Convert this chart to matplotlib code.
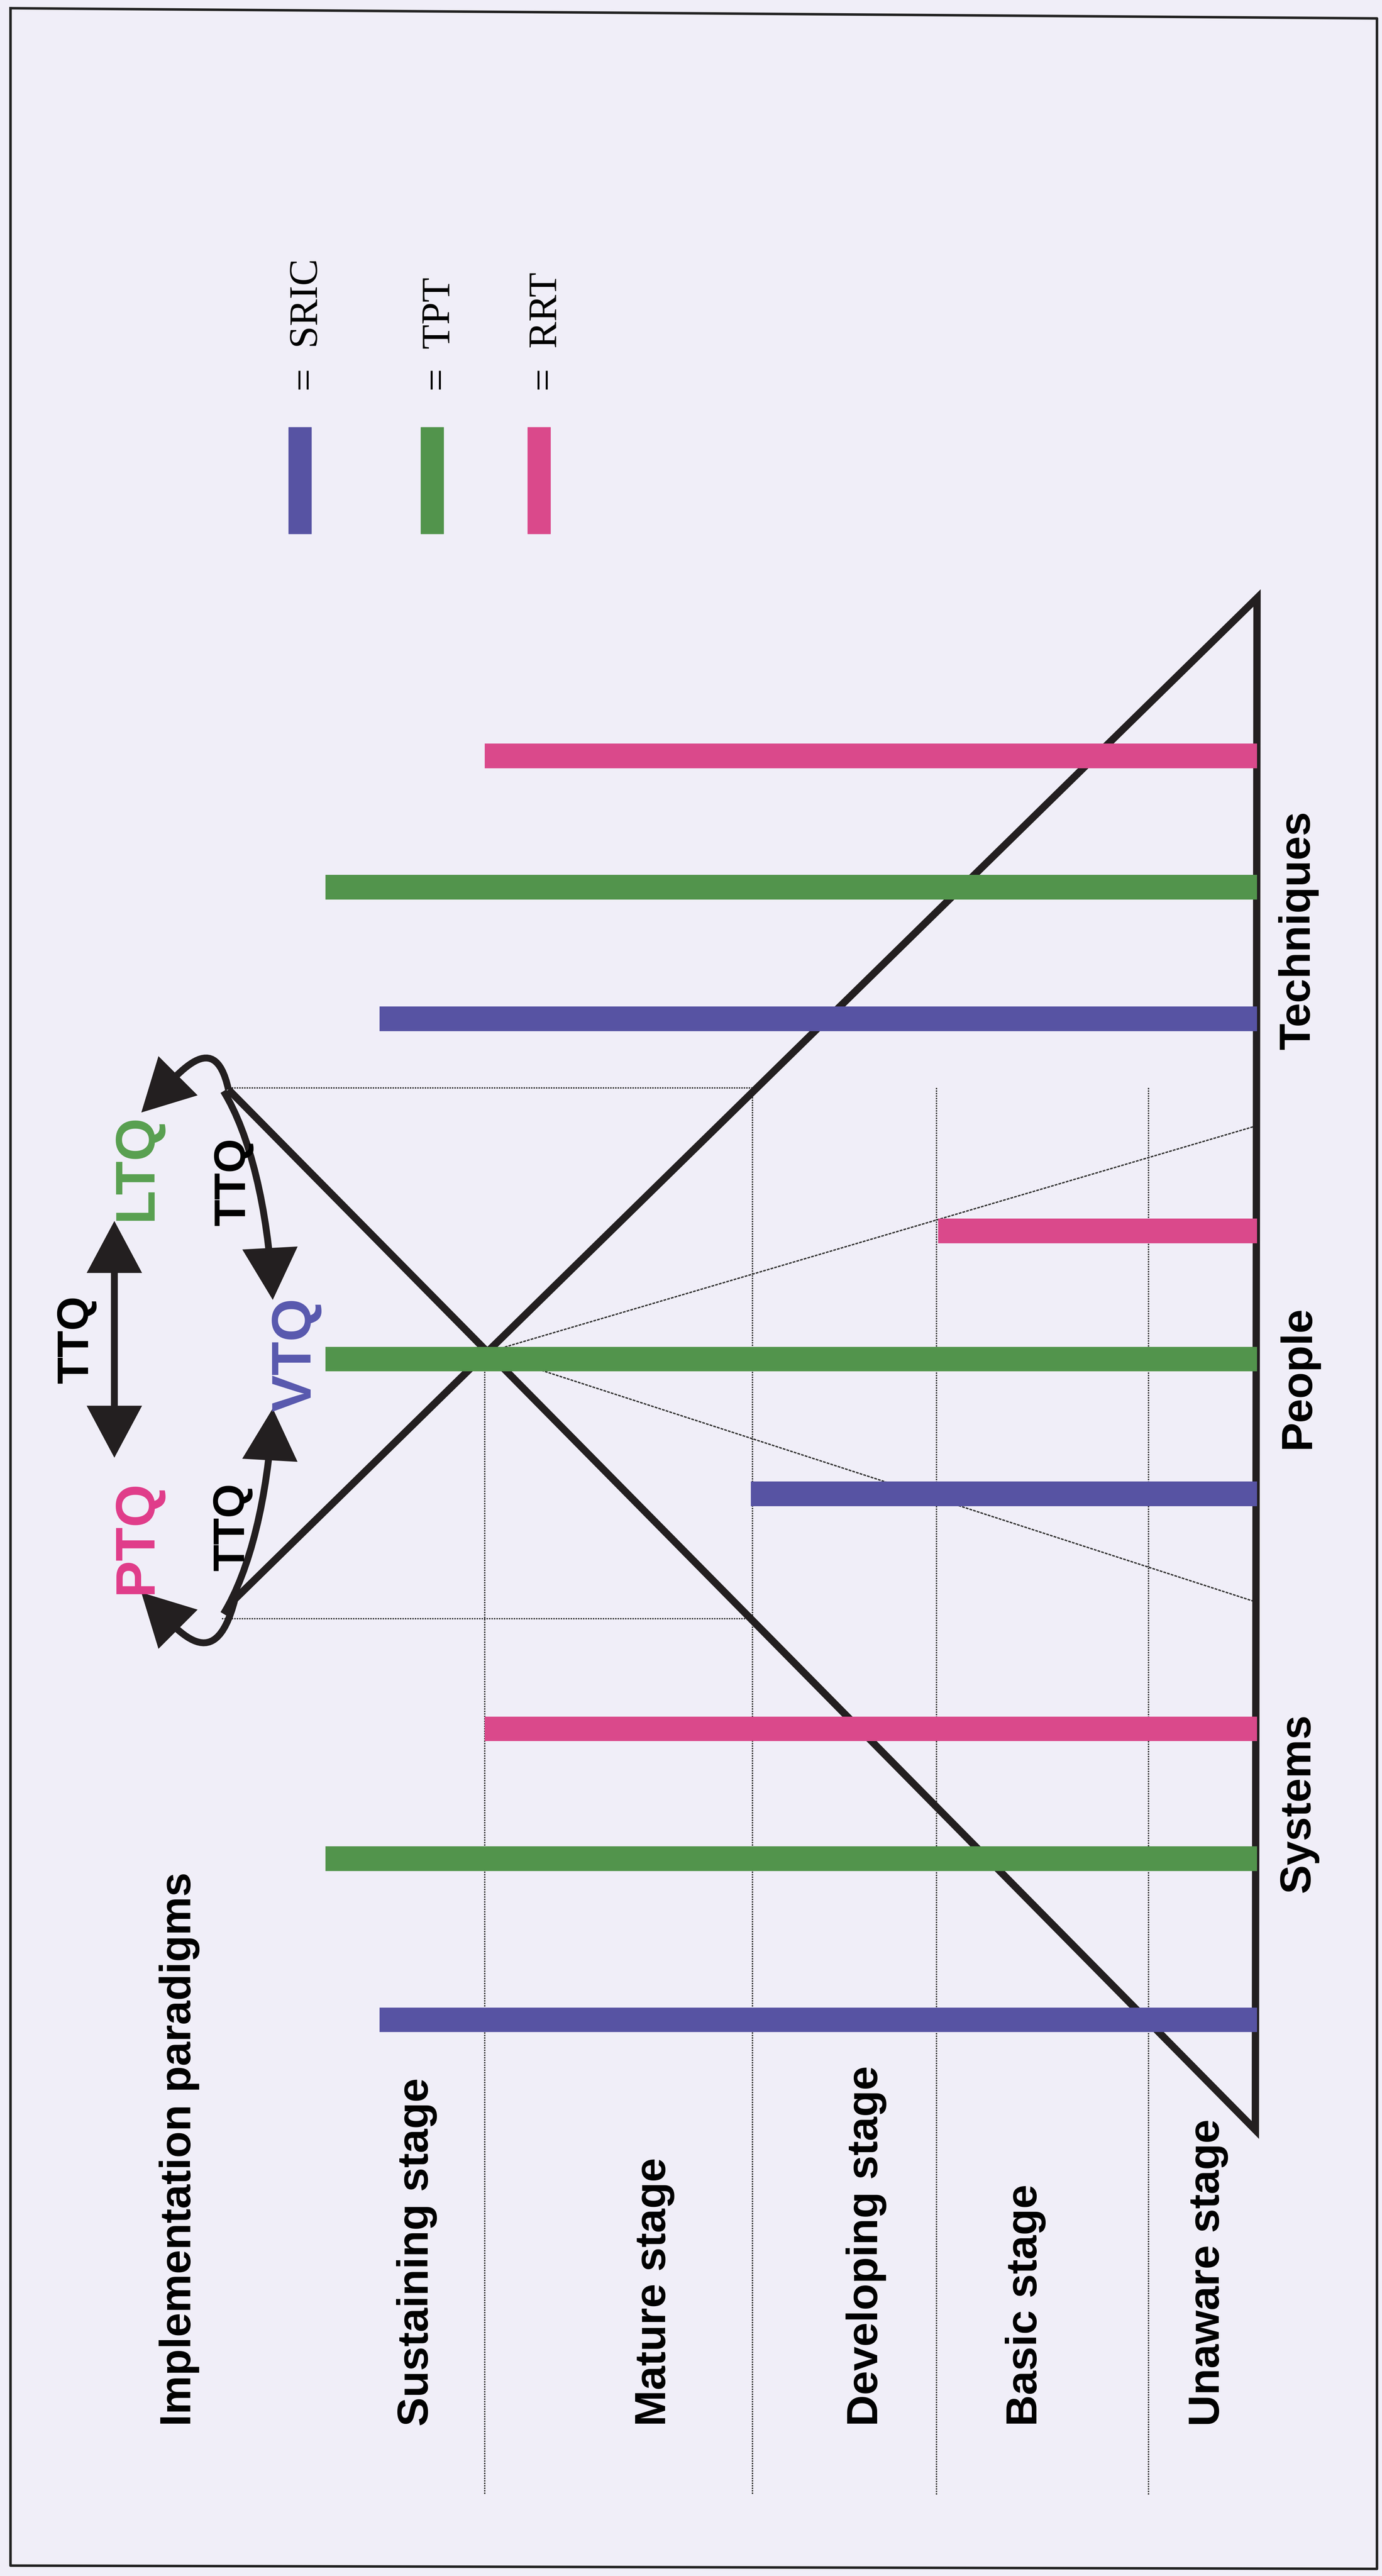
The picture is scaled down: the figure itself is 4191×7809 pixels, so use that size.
import numpy as np
import matplotlib.pyplot as plt
from matplotlib.patches import FancyArrowPatch, Rectangle
from matplotlib.path import Path

# --- chart data -------------------------------------------------------------
paradigms = ['Techniques', 'People', 'Systems']
companies = ['SRIC', 'TPT', 'RRT']
stages = ['Unaware stage', 'Basic stage', 'Developing stage',
          'Mature stage', 'Sustaining stage']
title_label = 'Implementation paradigms'

# how far each company bar reaches in from the baseline (diagram units)
sric_reach = [534, 308, 534]   # Techniques, People, Systems
tpt_reach = [567, 567, 567]
rrt_reach = [470, 194, 470]

# stage boundaries, measured in from the baseline
stage_edges = [66, 195, 307, 470]

# quality labels around the pyramid tip
tq_labels = ['LTQ', 'VTQ', 'PTQ']
link_label = 'TTQ'

# --- layout (reference pixels / 4.983) -------------------------------------
S = 4.983
W, H = 4191 / S, 7810 / S
BASE_X = 765
TOP = (765, 364)
BOT = (764, 1296)
L1_END = (143, 973)     # upper diagonal, runs to lower-left
L2_END = (139, 663)     # lower diagonal, runs to upper-left
CROSS = (296, 823)

bar_rows = {'Techniques': [620, 540, 460],
            'People': [909, 827, 749],
            'Systems': [1229, 1131, 1052]}
label_rows = {'Techniques': 566, 'People': 838, 'Systems': 1097}
stage_text_x = [742, 631, 534, 405, 260.5]
BAR_H = 15

colors = {'SRIC': '#5753A3', 'TPT': '#52944C', 'RRT': '#DA498B'}
text_colors = {'LTQ': '#58A050', 'VTQ': '#5858AE', 'PTQ': '#E03C8A'}
INK = '#231F20'
BG = '#F0EEF8'
SANS = 'Liberation Sans'
SERIF = 'Liberation Serif'

fig = plt.figure(figsize=(41.91, 78.10), dpi=100, facecolor=BG)
ax = fig.add_axes([0, 0, 1, 1])
ax.set_xlim(0, W)
ax.set_ylim(H, 0)
ax.axis('off')
ax.set_facecolor(BG)


def vtext(x, y, s, size, color='black', ha='center', family=SANS,
          weight='bold'):
    ax.text(x, y, s, rotation=90, rotation_mode='anchor', ha=ha,
            va='baseline', fontsize=size, color=color, family=family,
            fontweight=weight, zorder=6)


def x_on_line(p, q, y):
    # x of the line p-q at height y
    return p[0] + (y - p[1]) * (q[0] - p[0]) / (q[1] - p[1])


def y_on_line(p, q, x):
    return p[1] + (x - p[0]) * (q[1] - p[1]) / (q[0] - p[0])


# page border
ax.plot([6.4, 838, 838, 6.4, 6.4], [5.2, 11.4, 1563, 1561, 5.2],
        color='#222222', lw=5.5, zorder=1)

# dotted stage boundaries and box lines
dot = dict(color='#2A2A2A', lw=3, linestyle=(0, (1, 0.8)), zorder=2)
box_top, box_bot = 662, 985
for edge in stage_edges:
    x = BASE_X - edge
    y0 = max(y_on_line(TOP, L1_END, x), box_top)
    ax.plot([x, x], [y0, 1518], **dot)
ax.plot([141, x_on_line(TOP, L1_END, box_top)], [box_top, box_top], **dot)
ax.plot([135, x_on_line(BOT, L2_END, box_bot)], [box_bot, box_bot], **dot)

# thin fan lines from the crossing point
fan = dict(color='#333333', lw=3, linestyle=(0, (2, 0.8)), zorder=2)
ax.plot([CROSS[0], BASE_X], [CROSS[1], 685], **fan)
ax.plot([CROSS[0], BASE_X], [CROSS[1], 975], **fan)

# the crossed triangles and the baseline
ax.plot([L1_END[0], TOP[0], BOT[0], L2_END[0]],
        [L1_END[1], TOP[1], BOT[1], L2_END[1]],
        color=INK, lw=16, solid_joinstyle='miter', solid_capstyle='butt',
        zorder=3)

# company bars
reach = {'SRIC': sric_reach, 'TPT': tpt_reach, 'RRT': rrt_reach}
for ci, comp in enumerate(companies):
    ys = [bar_rows[p][ci] for p in paradigms]
    ax.barh(ys, -np.array(reach[comp]), left=BASE_X, height=BAR_H,
            color=colors[comp], zorder=4)

# paradigm labels to the right of the baseline
for p in paradigms:
    vtext(797, label_rows[p], p, 95)

# stage labels on the left
for s, x in zip(stages, stage_text_x):
    vtext(x, 1476, s, 95, ha='left')
vtext(116, 1476, title_label, 95, ha='left')

# legend
legend_x = [182.5, 263, 328]
for comp, x in zip(companies, legend_x):
    ax.add_patch(Rectangle((x - 7, 260), 14, 65, color=colors[comp],
                           zorder=4))
    vtext(x + 10.5, 238, '=  ' + comp, 88, ha='left', family=SERIF,
          weight='normal')

# quality labels
vtext(92, 710, 'LTQ', 121, color=text_colors['LTQ'])
vtext(92, 935, 'PTQ', 121, color=text_colors['PTQ'])
vtext(189, 824, 'VTQ', 121, color=text_colors['VTQ'])
vtext(149, 719, link_label, 96)
vtext(148.5, 929, link_label, 96)
vtext(53.5, 815, link_label, 96)

# arrows
arrow_kw = dict(arrowstyle='-|>,head_length=0.9,head_width=0.48',
                mutation_scale=100, color=INK, lw=15, shrinkA=0, shrinkB=0,
                joinstyle='miter', capstyle='butt', zorder=5)
curve = [Path.MOVETO, Path.CURVE4, Path.CURVE4, Path.CURVE4]


def bezier_arrow(pts):
    ax.add_patch(FancyArrowPatch(path=Path(pts, curve), **arrow_kw))


bezier_arrow([L2_END, (130, 622), (106, 657), (86, 677)])       # to LTQ
bezier_arrow([L1_END, (130, 1024), (106, 989), (86, 969)])      # to PTQ
bezier_arrow([(136, 664), (152, 690), (163, 735), (166, 791)])  # down to VTQ
bezier_arrow([(136, 982), (152, 956), (163, 911), (166, 857)])  # up to VTQ

dbl = dict(arrow_kw)
dbl['arrowstyle'] = '<|-|>,head_length=0.9,head_width=0.48'
ax.add_patch(FancyArrowPatch((69.6, 887), (69.6, 743), **dbl))

fig.savefig('out.png', dpi=100, facecolor=BG)
